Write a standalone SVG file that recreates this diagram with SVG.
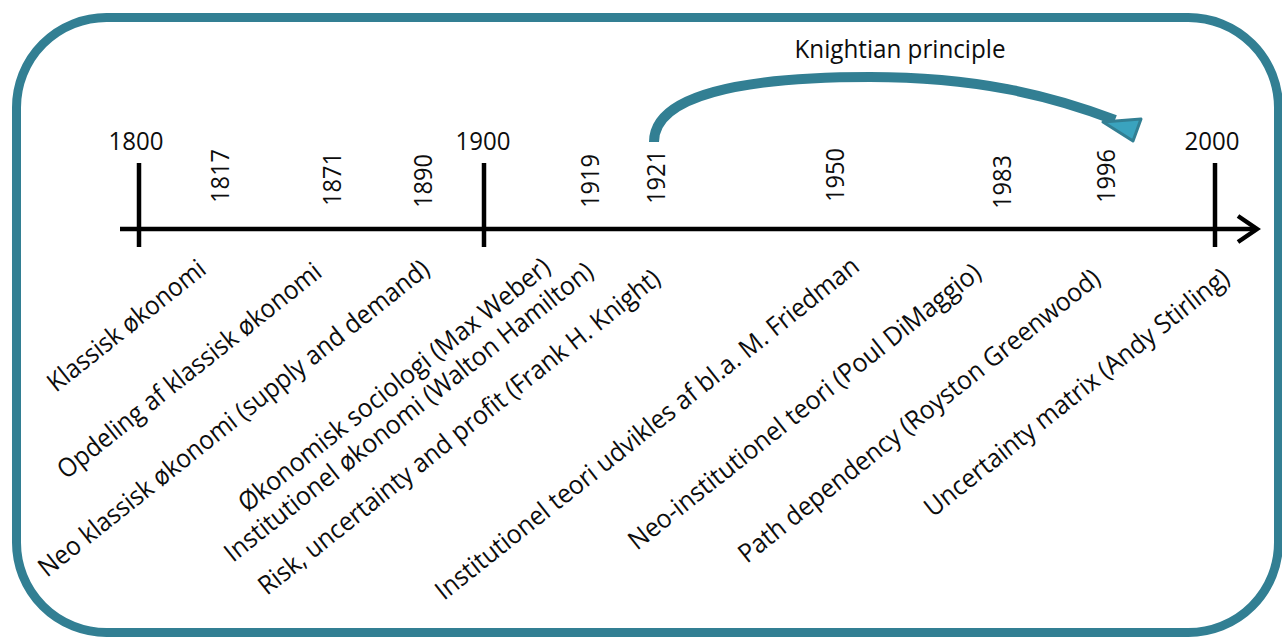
<svg xmlns="http://www.w3.org/2000/svg" width="1282" height="637" viewBox="0 0 1282 637">
<defs>
<style>
text{font-family:"Open Sans","Noto Sans","Liberation Sans",sans-serif;fill:#0d0d0d}
.yr{font-size:25.5px}
.lbl{font-size:26px}
.tick{stroke:#000;stroke-width:4.5;fill:none}
.teal{stroke:#327F93}
</style>
</defs>
<rect x="0" y="0" width="1282" height="637" fill="#ffffff"/>
<rect id="frame" x="16.5" y="17.5" width="1262" height="615" rx="90" ry="90" fill="#ffffff" class="teal" stroke-width="9"/>

<g id="connectors">
  <line class="tick" x1="120" y1="229" x2="1255" y2="229"/>
  <polyline class="tick" points="1238,216 1257,229 1238,242" stroke-linejoin="miter"/>
  <line class="tick" x1="139" y1="163" x2="139" y2="247"/>
  <line class="tick" x1="484" y1="163" x2="484" y2="247"/>
  <line class="tick" x1="1215" y1="163" x2="1215" y2="247"/>
  <path d="M654,142 C654,96 740,77 870,77 C975,77 1050,95 1115,120" fill="none" class="teal" stroke-width="10"/>
  <polygon points="1103,122 1141,119 1133,141" fill="#3AA3BE" class="teal" stroke-width="3" stroke-linejoin="round"/>
</g>

<g id="knightian"><text x="900" y="58" text-anchor="middle" style="font-size:25px" textLength="211" lengthAdjust="spacingAndGlyphs">Knightian principle</text></g>

<g id="y1800"><text class="yr" x="136" y="150" text-anchor="middle" textLength="55" lengthAdjust="spacingAndGlyphs">1800</text></g>
<g id="y1900"><text class="yr" x="483" y="150" text-anchor="middle" textLength="55" lengthAdjust="spacingAndGlyphs">1900</text></g>
<g id="y2000"><text class="yr" x="1212" y="150" text-anchor="middle" textLength="55" lengthAdjust="spacingAndGlyphs">2000</text></g>

<g id="y1817"><text class="yr" transform="translate(229,176) rotate(-90)" text-anchor="middle" textLength="54" lengthAdjust="spacingAndGlyphs">1817</text></g>
<g id="y1871"><text class="yr" transform="translate(341,179) rotate(-90)" text-anchor="middle" textLength="54" lengthAdjust="spacingAndGlyphs">1871</text></g>
<g id="y1890"><text class="yr" transform="translate(432,181) rotate(-90)" text-anchor="middle" textLength="54" lengthAdjust="spacingAndGlyphs">1890</text></g>
<g id="y1919"><text class="yr" transform="translate(599,181) rotate(-90)" text-anchor="middle" textLength="54" lengthAdjust="spacingAndGlyphs">1919</text></g>
<g id="y1921"><text class="yr" transform="translate(665,177) rotate(-90)" text-anchor="middle" textLength="54" lengthAdjust="spacingAndGlyphs">1921</text></g>
<g id="y1950"><text class="yr" transform="translate(844,175) rotate(-90)" text-anchor="middle" textLength="54" lengthAdjust="spacingAndGlyphs">1950</text></g>
<g id="y1983"><text class="yr" transform="translate(1011,182) rotate(-90)" text-anchor="middle" textLength="54" lengthAdjust="spacingAndGlyphs">1983</text></g>
<g id="y1996"><text class="yr" transform="translate(1115,176) rotate(-90)" text-anchor="middle" textLength="54" lengthAdjust="spacingAndGlyphs">1996</text></g>

<g id="l1"><text class="lbl" transform="translate(56,393) rotate(-38.5)" textLength="194" lengthAdjust="spacingAndGlyphs">Klassisk økonomi</text></g>
<g id="l2"><text class="lbl" transform="translate(66,480) rotate(-38.5)" textLength="329" lengthAdjust="spacingAndGlyphs">Opdeling af klassisk økonomi</text></g>
<g id="l3"><text class="lbl" transform="translate(47,578) rotate(-38.5)" textLength="491" lengthAdjust="spacingAndGlyphs">Neo klassisk økonomi (supply and demand)</text></g>
<g id="l4"><text class="lbl" transform="translate(247,513) rotate(-38.5)" textLength="390" lengthAdjust="spacingAndGlyphs">Økonomisk sociologi (Max Weber)</text></g>
<g id="l5"><text class="lbl" transform="translate(233,563) rotate(-38.5)" textLength="463" lengthAdjust="spacingAndGlyphs">Institutionel økonomi (Walton Hamilton)</text></g>
<g id="l6"><text class="lbl" transform="translate(267,596) rotate(-38.5)" textLength="505" lengthAdjust="spacingAndGlyphs">Risk, uncertainty and profit (Frank H. Knight)</text></g>
<g id="l7"><text class="lbl" transform="translate(444,601) rotate(-38.5)" textLength="533" lengthAdjust="spacingAndGlyphs">Institutionel teori udvikles af bl.a. M. Friedman</text></g>
<g id="l8"><text class="lbl" transform="translate(637,551) rotate(-38.5)" textLength="442" lengthAdjust="spacingAndGlyphs">Neo-institutionel teori (Poul DiMaggio)</text></g>
<g id="l9"><text class="lbl" transform="translate(747,564) rotate(-38.5)" textLength="454" lengthAdjust="spacingAndGlyphs">Path dependency (Royston Greenwood)</text></g>
<g id="l10"><text class="lbl" transform="translate(933,518) rotate(-38.5)" textLength="381" lengthAdjust="spacingAndGlyphs">Uncertainty matrix (Andy Stirling)</text></g>
</svg>
